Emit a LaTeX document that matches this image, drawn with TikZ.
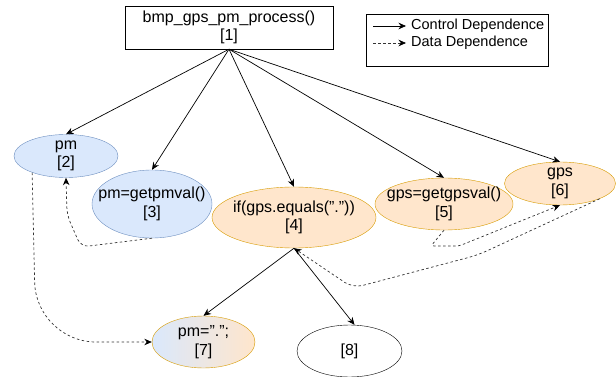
\documentclass[tikz,border=0pt]{standalone}
\usepackage{fontspec}
\setmainfont{Liberation Sans}
\usetikzlibrary{shapes}
\usetikzlibrary{arrows.meta}
\usetikzlibrary{calc}
\definecolor{pm fill}{HTML}{DAE8FC}
\definecolor{pm line}{HTML}{6C8EBF}
\definecolor{gps fill}{HTML}{FFE6CC}
\definecolor{gps line}{HTML}{D79B00}
\definecolor{data line}{HTML}{333333}

\tikzset{
  stmt/.style = {ellipse, draw, inner xsep = -20 pt, inner ysep = 0 pt,
    align = center, font = \fontsize{16}{18.5}\selectfont},
  pm stmt/.style = {stmt, fill = pm fill, draw = pm line},
  gps stmt/.style = {stmt, fill = gps fill, draw = gps line},
  ctrl/.style = {line width = 0.7 pt, -{Stealth[length = 7.5pt, width = 6.5pt]}},
  data/.style = {line width = 0.7 pt, draw = data line,
    dash pattern = on 2.5pt off 2.5pt,
    -{Stealth[length = 7.5pt, width = 6.5pt, black]}}
}

\begin{document}
\begin{tikzpicture}[x = 1 pt, y = -1 pt]
  \useasboundingbox (0, 0) rectangle (616, 377);

  % entry of the procedure
  \node[draw, inner sep = 0 pt, minimum width = 208 pt, minimum height = 43 pt,
    align = center, font = \fontsize{16}{18.5}\selectfont] (entry) at (229, 27.5)
    {bmp\_gps\_pm\_process()\\{}[1]};

  % statements
  \node[pm stmt, minimum width = 104 pt, minimum height = 43 pt] (pmVar)
    at (66, 156) {pm\\{}[2]};
  \node[pm stmt, minimum width = 120 pt, minimum height = 68 pt] (pmCall)
    at (152, 204) {pm=getpmval()\\{}[3]};
  \node[gps stmt, minimum width = 164 pt, minimum height = 61 pt] (ifGps)
    at (294, 217.5) {if(gps.equals("."))\\{}[4]};
  \node[gps stmt, minimum width = 138 pt, minimum height = 52 pt] (gpsCall)
    at (444, 204) {gps=getgpsval()\\{}[5]};
  \node[gps stmt, minimum width = 111 pt, minimum height = 43 pt] (gpsVar)
    at (560, 183.5) {gps\\{}[6]};
  \node[stmt, draw = gps line, left color = pm fill, right color = gps fill,
    minimum width = 103 pt, minimum height = 52 pt] (pmAssign)
    at (203.5, 342) {pm=".";\\{}[7]};
  \node[stmt, minimum width = 105 pt, minimum height = 52 pt] (stmtEight)
    at (349.5, 351) {[8]};

  % control dependences
  \foreach \target in {pmVar, pmCall, ifGps, gpsCall, gpsVar}
    \draw[ctrl] (entry.south) -- (\target.north);
  \draw[ctrl] (ifGps.south) -- (pmAssign.north);
  \draw[ctrl] (ifGps.south) -- ($(stmtEight.north) + (5, 0)$);

  % data dependences
  \draw[data, rounded corners = 8 pt] (pmCall.south) -- (81, 247) -- (67, 215)
    -- (pmVar.south);
  \draw[data, rounded corners = 60 pt] (pmVar.206) -- (36, 342) -- (pmAssign.west);
  \draw[data, rounded corners = 3 pt] (gpsCall.south) -- (431, 246) -- (459, 246)
    -- (gpsVar.south);
  \draw[data, rounded corners = 10 pt] (gpsVar.-21) -- (478, 255) -- (353, 288)
    -- (ifGps.south);

  % legend
  \node[draw, inner sep = 0 pt, minimum width = 182 pt, minimum height = 52 pt]
    (legend) at (457, 40) {};
  \coordinate (ctrlStart) at (373, 26);
  \coordinate (dataStart) at (373, 43);
  \node[anchor = west, inner sep = 0 pt, font = \fontsize{14.5}{17}\selectfont]
    (ctrlText) at (411, 26) {Control Dependence};
  \node[anchor = west, inner sep = 0 pt, font = \fontsize{14.5}{17}\selectfont]
    (dataText) at (411, 43) {Data Dependence};
  \draw[ctrl] (ctrlStart) -- ($(ctrlText.west) + (-5, 0)$);
  \draw[data] (dataStart) -- ($(dataText.west) + (-5, 0)$);
\end{tikzpicture}
\end{document}
